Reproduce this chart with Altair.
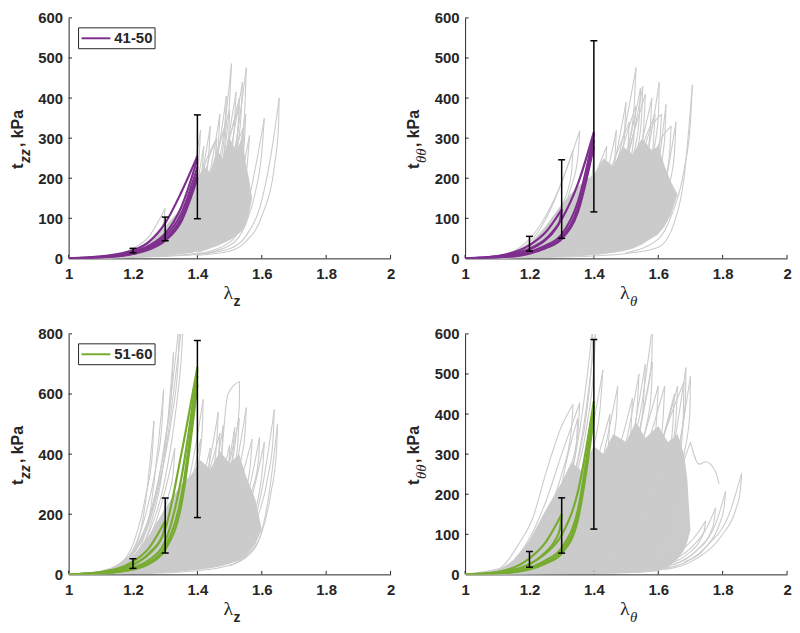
import altair as alt
import pandas as pd

INK = "#262626"
GRAY = "#cbcbcb"
PURPLE = "#7e2f8e"
GREEN = "#77ac30"
SANS = "Liberation Sans"
SERIF = "Liberation Serif"

W, H = 324, 242

X_TICKS = [1.0, 1.2, 1.4, 1.6, 1.8, 2.0]
Y_TICKS_600 = [0, 100, 200, 300, 400, 500, 600]
Y_TICKS_800 = [0, 200, 400, 600, 800]
ERR_LAM = [1.2, 1.3, 1.4]

# ---------------- Panel A: t_zz vs lambda_z, group 41-50 ----------------
A_ERR_LO = [14, 44, 99]
A_ERR_HI = [25, 103, 358]
A_MASS_LAM = [1.1, 1.2, 1.25, 1.3, 1.35, 1.38, 1.4, 1.42, 1.44, 1.46, 1.48, 1.5, 1.52, 1.54, 1.55, 1.56, 1.57]
A_MASS_LO = [0, 1, 3, 7, 11, 14, 18, 22, 25, 30, 38, 45, 55, 70, 85, 110, 150]
A_MASS_HI = [3, 18, 40, 80, 125, 165, 200, 230, 215, 270, 250, 300, 270, 300, 240, 200, 150]
A_GRAY = [
    [(1.0, 0), (1.1, 4), (1.2, 25), (1.25, 55), (1.3, 125), (1.295, 90), (1.28, 62), (1.25, 36), (1.2, 14), (1.1, 2)],
    [(1.0, 0), (1.2, 10), (1.3, 48), (1.35, 105), (1.38, 185), (1.41, 320), (1.405, 250), (1.39, 170), (1.36, 100), (1.3, 38), (1.2, 8)],
    [(1.0, 0), (1.2, 8), (1.3, 38), (1.38, 125), (1.42, 235), (1.44, 330), (1.435, 255), (1.42, 175), (1.38, 92), (1.3, 28)],
    [(1.0, 0), (1.2, 6), (1.3, 30), (1.4, 110), (1.44, 220), (1.47, 360), (1.465, 280), (1.45, 195), (1.4, 90), (1.3, 22)],
    [(1.0, 0), (1.2, 5), (1.3, 25), (1.4, 95), (1.46, 240), (1.49, 405), (1.485, 320), (1.47, 230), (1.43, 130), (1.35, 45)],
    [(1.0, 0), (1.2, 5), (1.3, 22), (1.4, 85), (1.45, 185), (1.48, 300), (1.506, 486), (1.5, 390), (1.49, 300), (1.46, 185), (1.4, 65), (1.3, 16)],
    [(1.1, 0), (1.3, 18), (1.4, 70), (1.47, 190), (1.52, 415), (1.515, 330), (1.5, 240), (1.46, 140), (1.4, 55)],
    [(1.1, 0), (1.3, 15), (1.4, 55), (1.48, 180), (1.54, 440), (1.535, 350), (1.52, 260), (1.48, 150), (1.4, 45)],
    [(1.1, 0), (1.3, 14), (1.4, 48), (1.48, 150), (1.52, 290), (1.552, 476), (1.548, 385), (1.54, 300), (1.5, 160), (1.45, 75), (1.4, 32)],
    [(1.0, 0), (1.2, 4), (1.4, 18), (1.48, 60), (1.52, 145), (1.562, 307), (1.555, 235), (1.54, 155), (1.5, 72), (1.45, 32), (1.4, 15)],
    [(1.0, 0), (1.2, 3), (1.4, 12), (1.5, 40), (1.55, 115), (1.58, 225), (1.608, 350), (1.6, 265), (1.58, 165), (1.55, 85), (1.5, 32), (1.4, 10)],
    [(1.0, 0), (1.2, 3), (1.4, 10), (1.5, 24), (1.55, 55), (1.6, 145), (1.63, 265), (1.654, 400), (1.652, 330), (1.64, 235), (1.6, 105), (1.55, 42), (1.5, 18), (1.4, 8)],
    [(1.0, 0), (1.2, 7), (1.3, 35), (1.38, 120), (1.43, 250), (1.46, 300), (1.455, 240), (1.44, 170), (1.4, 100), (1.33, 40)],
    [(1.0, 0), (1.2, 6), (1.3, 28), (1.4, 100), (1.46, 260), (1.5, 370), (1.497, 300), (1.48, 210), (1.44, 120), (1.36, 45)],
    [(1.0, 0), (1.2, 5), (1.35, 50), (1.44, 160), (1.5, 300), (1.53, 400), (1.527, 330), (1.51, 240), (1.47, 140), (1.4, 60)],
    [(1.0, 0), (1.25, 8), (1.4, 45), (1.48, 140), (1.53, 270), (1.55, 360), (1.546, 290), (1.53, 200), (1.49, 110), (1.42, 45)],
    [(1.0, 0), (1.2, 6), (1.3, 32), (1.37, 110), (1.4, 190), (1.42, 280), (1.415, 220), (1.4, 160), (1.37, 95), (1.3, 26)],
    [(1.0, 0), (1.25, 10), (1.35, 50), (1.42, 150), (1.47, 290), (1.49, 340), (1.485, 280), (1.47, 210), (1.43, 120), (1.37, 50)],
    [(1.0, 0), (1.25, 8), (1.38, 60), (1.46, 180), (1.51, 330), (1.53, 380), (1.525, 310), (1.51, 230), (1.47, 130), (1.4, 50)],
    [(1.0, 0), (1.3, 10), (1.42, 60), (1.49, 170), (1.53, 300), (1.545, 330), (1.54, 260), (1.52, 180), (1.48, 100), (1.42, 40)],
    [(1.0, 0), (1.2, 8), (1.33, 50), (1.4, 140), (1.44, 260), (1.46, 300), (1.455, 230), (1.44, 160), (1.4, 90), (1.33, 35)],
]
A_COL = [
    [(1.0, 0), (1.1, 5), (1.2, 20), (1.25, 42), (1.3, 88), (1.35, 165), (1.4, 255)],
    [(1.0, 0), (1.1, 4), (1.2, 16), (1.25, 32), (1.3, 62), (1.35, 128), (1.4, 248)],
    [(1.0, 0), (1.1, 3), (1.2, 14), (1.25, 28), (1.3, 55), (1.35, 112), (1.4, 228)],
    [(1.0, 0), (1.1, 3), (1.2, 12), (1.25, 25), (1.3, 48), (1.35, 100), (1.4, 212)],
    [(1.0, 0), (1.1, 2), (1.2, 11), (1.25, 22), (1.3, 44), (1.35, 92), (1.4, 200)],
]

# ---------------- Panel B: t_thetatheta vs lambda_theta, group 41-50 ----------------
B_ERR_LO = [18, 50, 116]
B_ERR_HI = [55, 246, 543]
B_MASS_LAM = [1.1, 1.2, 1.25, 1.3, 1.35, 1.4, 1.43, 1.46, 1.49, 1.52, 1.55, 1.58, 1.6, 1.62, 1.64, 1.66]
B_MASS_LO = [0, 1, 2, 4, 6, 9, 11, 14, 18, 24, 35, 50, 60, 80, 110, 160]
B_MASS_HI = [3, 35, 80, 135, 180, 210, 250, 230, 280, 260, 300, 270, 280, 230, 190, 160]
B_GRAY = [
    [(1.0, 0), (1.1, 5), (1.2, 48), (1.25, 105), (1.3, 190), (1.356, 318), (1.35, 250), (1.33, 180), (1.3, 112), (1.25, 55), (1.2, 20), (1.1, 2)],
    [(1.0, 0), (1.1, 4), (1.2, 40), (1.27, 130), (1.335, 270), (1.33, 210), (1.3, 130), (1.25, 60), (1.2, 18)],
    [(1.0, 0), (1.2, 8), (1.3, 30), (1.4, 110), (1.44, 210), (1.47, 320), (1.465, 250), (1.45, 175), (1.4, 80), (1.3, 20)],
    [(1.0, 0), (1.2, 6), (1.3, 22), (1.4, 90), (1.46, 225), (1.5, 390), (1.495, 305), (1.48, 215), (1.44, 115), (1.35, 35)],
    [(1.0, 0), (1.2, 8), (1.3, 28), (1.4, 90), (1.45, 175), (1.49, 300), (1.531, 476), (1.525, 380), (1.51, 290), (1.47, 180), (1.4, 75), (1.3, 22)],
    [(1.1, 0), (1.3, 18), (1.4, 65), (1.48, 190), (1.545, 425), (1.54, 340), (1.52, 250), (1.48, 150), (1.4, 50)],
    [(1.1, 0), (1.3, 15), (1.4, 58), (1.47, 160), (1.52, 300), (1.552, 429), (1.548, 350), (1.535, 270), (1.5, 160), (1.45, 80), (1.4, 40)],
    [(1.1, 0), (1.35, 20), (1.45, 78), (1.52, 200), (1.58, 400), (1.575, 320), (1.56, 230), (1.52, 125), (1.45, 55)],
    [(1.0, 0), (1.3, 10), (1.45, 48), (1.52, 135), (1.57, 275), (1.603, 439), (1.6, 350), (1.58, 250), (1.54, 140), (1.48, 60), (1.4, 25)],
    [(1.0, 0), (1.3, 8), (1.45, 30), (1.55, 90), (1.6, 230), (1.624, 384), (1.62, 300), (1.6, 200), (1.56, 110), (1.5, 50), (1.4, 18)],
    [(1.0, 0), (1.2, 3), (1.4, 10), (1.5, 25), (1.58, 80), (1.62, 180), (1.655, 340), (1.65, 260), (1.63, 170), (1.6, 90), (1.55, 45), (1.5, 22)],
    [(1.0, 0), (1.2, 2), (1.4, 6), (1.5, 12), (1.6, 28), (1.65, 90), (1.68, 200), (1.706, 433), (1.7, 340), (1.68, 220), (1.64, 105), (1.6, 48), (1.5, 14)],
    [(1.0, 0), (1.2, 7), (1.32, 45), (1.42, 160), (1.48, 280), (1.51, 340), (1.505, 270), (1.49, 190), (1.44, 100), (1.36, 40)],
    [(1.0, 0), (1.25, 10), (1.38, 60), (1.47, 180), (1.53, 330), (1.56, 410), (1.555, 330), (1.54, 240), (1.5, 140), (1.42, 55)],
    [(1.0, 0), (1.3, 12), (1.42, 55), (1.5, 160), (1.56, 300), (1.59, 360), (1.585, 290), (1.57, 210), (1.53, 120), (1.45, 45)],
    [(1.0, 0), (1.2, 10), (1.3, 50), (1.38, 150), (1.42, 240), (1.44, 280), (1.435, 220), (1.42, 160), (1.38, 90), (1.3, 30)],
    [(1.0, 0), (1.25, 8), (1.38, 60), (1.46, 200), (1.51, 330), (1.53, 380), (1.525, 310), (1.51, 230), (1.46, 120), (1.38, 45)],
    [(1.0, 0), (1.3, 8), (1.45, 60), (1.53, 200), (1.58, 330), (1.61, 360), (1.605, 290), (1.59, 210), (1.54, 110), (1.46, 40)],
    [(1.0, 0), (1.3, 6), (1.48, 60), (1.56, 190), (1.61, 300), (1.64, 330), (1.635, 260), (1.62, 190), (1.57, 100), (1.5, 40)],
    [(1.0, 0), (1.2, 12), (1.3, 70), (1.36, 170), (1.39, 250), (1.4, 270), (1.395, 210), (1.38, 160), (1.34, 90), (1.27, 35)],
]
B_COL = [
    [(1.0, 0), (1.1, 6), (1.2, 33), (1.25, 65), (1.3, 122), (1.295, 95), (1.28, 72), (1.25, 46), (1.2, 22), (1.1, 4)],
    [(1.0, 0), (1.1, 5), (1.2, 24), (1.25, 48), (1.3, 98), (1.35, 185), (1.4, 315)],
    [(1.0, 0), (1.1, 3), (1.2, 16), (1.25, 32), (1.3, 60), (1.35, 140), (1.4, 310)],
    [(1.0, 0), (1.1, 3), (1.2, 14), (1.25, 28), (1.3, 53), (1.35, 125), (1.4, 295)],
    [(1.0, 0), (1.1, 2), (1.2, 12), (1.25, 25), (1.3, 48), (1.35, 115), (1.4, 280)],
]

# ---------------- Panel C: t_zz vs lambda_z, group 51-60 ----------------
C_ERR_LO = [20, 71, 189]
C_ERR_HI = [52, 254, 778]
C_MASS_LAM = [1.1, 1.15, 1.2, 1.25, 1.3, 1.35, 1.38, 1.41, 1.44, 1.47, 1.5, 1.53, 1.55, 1.58, 1.6]
C_MASS_LO = [0, 0, 1, 3, 6, 10, 13, 16, 20, 26, 35, 45, 60, 100, 150]
C_MASS_HI = [5, 22, 60, 130, 220, 300, 330, 380, 350, 410, 370, 400, 330, 250, 150]
C_GRAY = [
    [(1.0, 0), (1.1, 10), (1.2, 70), (1.25, 170), (1.3, 400), (1.33, 640), (1.36, 900), (1.35, 720), (1.33, 520), (1.3, 320), (1.25, 140), (1.2, 50), (1.1, 5)],
    [(1.0, 0), (1.1, 10), (1.2, 75), (1.25, 190), (1.3, 440), (1.345, 850), (1.34, 700), (1.32, 520), (1.28, 300), (1.22, 110), (1.15, 25)],
    [(1.0, 0), (1.1, 8), (1.2, 60), (1.25, 150), (1.3, 420), (1.326, 740), (1.32, 620), (1.3, 450), (1.27, 260), (1.22, 100), (1.15, 25)],
    [(1.0, 0), (1.1, 8), (1.2, 55), (1.25, 190), (1.295, 615), (1.29, 500), (1.27, 350), (1.23, 165), (1.18, 50), (1.1, 6)],
    [(1.0, 0), (1.1, 8), (1.2, 75), (1.24, 250), (1.265, 510), (1.26, 400), (1.24, 265), (1.2, 100), (1.15, 30)],
    [(1.0, 0), (1.2, 25), (1.3, 110), (1.36, 250), (1.39, 400), (1.418, 582), (1.415, 480), (1.405, 380), (1.38, 260), (1.33, 140), (1.25, 50)],
    [(1.0, 0), (1.25, 20), (1.35, 100), (1.42, 280), (1.465, 540), (1.46, 440), (1.45, 350), (1.42, 230), (1.36, 110), (1.3, 40)],
    [(1.0, 0), (1.3, 30), (1.4, 130), (1.45, 300), (1.48, 495), (1.475, 400), (1.46, 310), (1.42, 180), (1.35, 70)],
    [(1.0, 0), (1.3, 20), (1.4, 80), (1.46, 220), (1.495, 600), (1.531, 642), (1.53, 560), (1.52, 460), (1.5, 320), (1.45, 160), (1.4, 70)],
    [(1.0, 0), (1.3, 15), (1.42, 100), (1.48, 270), (1.516, 489), (1.51, 400), (1.49, 300), (1.45, 170), (1.38, 70)],
    [(1.0, 0), (1.35, 25), (1.45, 100), (1.5, 250), (1.552, 555), (1.548, 470), (1.535, 380), (1.5, 220), (1.45, 100)],
    [(1.0, 0), (1.35, 15), (1.45, 55), (1.52, 150), (1.56, 280), (1.593, 456), (1.59, 380), (1.57, 280), (1.53, 160), (1.47, 70)],
    [(1.0, 0), (1.3, 10), (1.45, 40), (1.53, 130), (1.57, 260), (1.608, 440), (1.603, 360), (1.59, 260), (1.55, 140), (1.5, 60)],
    [(1.0, 0), (1.3, 8), (1.45, 30), (1.55, 100), (1.6, 280), (1.639, 549), (1.635, 450), (1.62, 330), (1.58, 170), (1.52, 70)],
    [(1.0, 0), (1.2, 2), (1.4, 12), (1.5, 30), (1.58, 90), (1.62, 250), (1.649, 500), (1.645, 400), (1.63, 280), (1.6, 140), (1.55, 60), (1.5, 28)],
    [(1.0, 0), (1.2, 15), (1.32, 90), (1.4, 250), (1.44, 420), (1.435, 340), (1.42, 260), (1.38, 160), (1.3, 60)],
    [(1.0, 0), (1.25, 12), (1.38, 90), (1.46, 250), (1.5, 430), (1.497, 350), (1.48, 260), (1.44, 150), (1.36, 55)],
    [(1.0, 0), (1.2, 20), (1.3, 110), (1.38, 300), (1.41, 450), (1.405, 370), (1.39, 290), (1.35, 170), (1.27, 60)],
    [(1.0, 0), (1.25, 15), (1.35, 110), (1.43, 320), (1.47, 470), (1.465, 390), (1.45, 300), (1.41, 190), (1.33, 70)],
    [(1.0, 0), (1.3, 18), (1.42, 120), (1.49, 330), (1.53, 520), (1.525, 430), (1.51, 330), (1.47, 200), (1.4, 80)],
    [(1.0, 0), (1.3, 12), (1.45, 90), (1.52, 260), (1.57, 450), (1.565, 370), (1.55, 280), (1.51, 170), (1.44, 70)],
    [(1.0, 0), (1.15, 15), (1.25, 120), (1.3, 280), (1.33, 420), (1.325, 340), (1.31, 260), (1.27, 150), (1.2, 45)],
]
C_COL = [
    [(1.0, 0), (1.1, 8), (1.2, 42), (1.25, 88), (1.3, 178), (1.295, 140), (1.28, 105), (1.25, 68), (1.2, 32), (1.1, 5)],
    [(1.0, 0), (1.1, 6), (1.2, 32), (1.25, 70), (1.3, 150), (1.35, 400), (1.4, 690)],
    [(1.0, 0), (1.1, 4), (1.2, 22), (1.25, 48), (1.3, 110), (1.35, 320), (1.4, 680)],
    [(1.0, 0), (1.1, 3), (1.2, 18), (1.25, 40), (1.3, 92), (1.35, 260), (1.4, 660)],
    [(1.0, 0), (1.1, 3), (1.2, 16), (1.25, 35), (1.3, 82), (1.35, 230), (1.4, 630)],
]

# ---------------- Panel D: t_thetatheta vs lambda_theta, group 51-60 ----------------
D_ERR_LO = [18, 53, 113]
D_ERR_HI = [57, 191, 586]
D_MASS_LAM = [1.1, 1.15, 1.2, 1.25, 1.3, 1.33, 1.36, 1.4, 1.43, 1.46, 1.5, 1.53, 1.56, 1.6, 1.63, 1.66, 1.68, 1.69, 1.7]
D_MASS_LO = [0, 0, 0, 1, 1, 2, 2, 2, 3, 3, 4, 4, 5, 8, 18, 38, 60, 80, 110]
D_MASS_HI = [8, 35, 85, 160, 230, 280, 260, 320, 300, 350, 330, 380, 340, 370, 330, 350, 300, 240, 110]
D_GRAY = [
    [(1.0, 0), (1.1, 12), (1.17, 80), (1.21, 140), (1.25, 250), (1.3, 370), (1.335, 424), (1.33, 360), (1.3, 250), (1.25, 140), (1.2, 60), (1.1, 8)],
    [(1.0, 0), (1.1, 10), (1.2, 90), (1.25, 180), (1.3, 300), (1.356, 428), (1.35, 350), (1.32, 250), (1.27, 150), (1.2, 50)],
    [(1.0, 0), (1.2, 40), (1.3, 170), (1.35, 330), (1.38, 500), (1.397, 620), (1.395, 560), (1.38, 420), (1.35, 280), (1.3, 150), (1.2, 30)],
    [(1.0, 0), (1.2, 30), (1.3, 140), (1.37, 380), (1.405, 600), (1.4, 520), (1.38, 380), (1.34, 230), (1.28, 100)],
    [(1.0, 0), (1.2, 20), (1.3, 100), (1.38, 300), (1.428, 510), (1.42, 420), (1.4, 320), (1.35, 180), (1.28, 70)],
    [(1.0, 0), (1.2, 10), (1.3, 60), (1.4, 200), (1.474, 469), (1.47, 390), (1.45, 300), (1.4, 170), (1.3, 45)],
    [(1.0, 0), (1.3, 30), (1.4, 130), (1.47, 290), (1.52, 440), (1.515, 360), (1.5, 280), (1.45, 170), (1.35, 60)],
    [(1.0, 0), (1.3, 20), (1.4, 90), (1.5, 260), (1.55, 430), (1.582, 620), (1.58, 540), (1.56, 430), (1.52, 300), (1.45, 150)],
    [(1.0, 0), (1.3, 15), (1.45, 120), (1.52, 280), (1.582, 530), (1.578, 450), (1.56, 360), (1.52, 240), (1.45, 100)],
    [(1.0, 0), (1.3, 15), (1.4, 80), (1.5, 260), (1.56, 525), (1.555, 440), (1.54, 340), (1.5, 210), (1.42, 80)],
    [(1.0, 0), (1.3, 5), (1.5, 40), (1.6, 170), (1.65, 330), (1.686, 516), (1.684, 430), (1.67, 340), (1.63, 220), (1.57, 100), (1.5, 35)],
    [(1.0, 0), (1.3, 4), (1.5, 30), (1.6, 130), (1.66, 300), (1.7, 494), (1.698, 400), (1.68, 300), (1.64, 180), (1.58, 70), (1.5, 25)],
    [(1.0, 0), (1.4, 5), (1.55, 30), (1.62, 120), (1.67, 260), (1.7, 330), (1.727, 275), (1.747, 281), (1.778, 256), (1.789, 225)],
    [(1.0, 0), (1.5, 4), (1.65, 20), (1.75, 70), (1.82, 150), (1.859, 252), (1.855, 210), (1.84, 160), (1.8, 100), (1.72, 40), (1.62, 12)],
    [(1.0, 0), (1.5, 5), (1.65, 25), (1.72, 60), (1.78, 130), (1.809, 207), (1.805, 170), (1.79, 125), (1.75, 70), (1.68, 30)],
    [(1.0, 0), (1.5, 6), (1.63, 30), (1.7, 65), (1.75, 115), (1.778, 166), (1.774, 135), (1.76, 100), (1.72, 60), (1.65, 25)],
    [(1.0, 0), (1.5, 8), (1.62, 35), (1.68, 65), (1.72, 100), (1.747, 133), (1.743, 110), (1.73, 85), (1.69, 50), (1.62, 22)],
    [(1.0, 0), (1.3, 10), (1.45, 90), (1.55, 280), (1.62, 470), (1.615, 390), (1.6, 300), (1.55, 180), (1.47, 70)],
    [(1.0, 0), (1.3, 8), (1.5, 110), (1.6, 300), (1.65, 450), (1.645, 370), (1.63, 280), (1.58, 160), (1.5, 60)],
    [(1.0, 0), (1.2, 15), (1.3, 90), (1.4, 260), (1.45, 400), (1.445, 320), (1.43, 240), (1.38, 140), (1.3, 50)],
    [(1.0, 0), (1.3, 12), (1.45, 120), (1.55, 330), (1.6, 470), (1.595, 390), (1.58, 300), (1.53, 180), (1.45, 70)],
    [(1.0, 0), (1.3, 10), (1.5, 120), (1.6, 300), (1.66, 470), (1.655, 390), (1.64, 300), (1.6, 190), (1.52, 70)],
    [(1.0, 0), (1.2, 30), (1.28, 150), (1.32, 300), (1.35, 390), (1.345, 320), (1.33, 250), (1.29, 150), (1.22, 50)],
    [(1.0, 0), (1.3, 10), (1.5, 100), (1.58, 260), (1.65, 420), (1.68, 480), (1.678, 400), (1.67, 310), (1.64, 200), (1.58, 90)],
    [(1.0, 0), (1.3, 20), (1.42, 160), (1.5, 330), (1.54, 500), (1.535, 420), (1.52, 330), (1.48, 210), (1.4, 90)],
]
D_COL = [
    [(1.0, 0), (1.1, 6), (1.2, 40), (1.25, 80), (1.3, 150), (1.295, 115), (1.28, 85), (1.25, 55), (1.2, 25), (1.1, 4)],
    [(1.0, 0), (1.1, 4), (1.2, 26), (1.25, 52), (1.3, 98), (1.35, 205), (1.4, 432)],
    [(1.0, 0), (1.1, 3), (1.2, 17), (1.25, 35), (1.3, 66), (1.35, 160), (1.4, 420)],
    [(1.0, 0), (1.1, 2), (1.2, 14), (1.25, 30), (1.3, 58), (1.35, 145), (1.4, 405)],
    [(1.0, 0), (1.1, 2), (1.2, 12), (1.25, 27), (1.3, 52), (1.35, 135), (1.4, 392)],
]

ONE = pd.DataFrame({"a": [0]})


def curves_df(curves):
    rows = []
    for i, c in enumerate(curves):
        k = max(range(len(c)), key=lambda j: c[j][1])
        for lam, t in c[: k + 1]:
            rows.append({"lam": lam, "t": t, "key": f"{i}u"})
        for lam, t in c[k:]:
            rows.append({"lam": lam, "t": t, "key": f"{i}d"})
    return pd.DataFrame(rows)


def txt(text, x, y, size, weight="bold", style="normal", font=SANS, angle=0, align="left", baseline="alphabetic"):
    return alt.Chart(ONE).mark_text(
        text=text, font=font, fontSize=size, fontWeight=weight, fontStyle=style,
        angle=angle, align=align, baseline=baseline, color=INK,
    ).encode(x=alt.value(x), y=alt.value(y))


def panel(gray, mass, col, color, err_lo, err_hi, ymax, yticks, is_theta, legend):
    xs = alt.Scale(domain=[1, 2], nice=False, zero=False)
    ys = alt.Scale(domain=[0, ymax], nice=False, zero=False)
    common = dict(grid=False, ticks=False, domainColor=INK, domainWidth=1,
                  labelFont=SANS, labelFontSize=15, labelFontWeight="bold", labelColor=INK,
                  labelFlush=False, labelOverlap=False, title=None)
    xax = alt.Axis(values=X_TICKS, format=".1~f", labelPadding=8, **common)
    yax = alt.Axis(values=yticks, format="d", labelPadding=6, **common)

    def X(f):
        return alt.X(f, scale=xs, axis=xax)

    def Y(f):
        return alt.Y(f, scale=ys, axis=yax)

    mdf = pd.DataFrame({"lam": mass[0], "lo": mass[1], "hi": mass[2]})
    area = alt.Chart(mdf).mark_area(color=GRAY, interpolate="linear", clip=True).encode(
        x=X("lam:Q"), y=Y("lo:Q"), y2=alt.Y2("hi:Q"))
    xt = alt.Chart(pd.DataFrame({"lam": X_TICKS})).mark_rule(color=INK, strokeWidth=1).encode(
        x=X("lam:Q"), y=alt.value(H), y2=alt.value(H - 3.5))
    yt = alt.Chart(pd.DataFrame({"t": yticks})).mark_rule(color=INK, strokeWidth=1).encode(
        y=Y("t:Q"), x=alt.value(0), x2=alt.value(3.5))
    glines = alt.Chart(curves_df(gray)).mark_line(
        color=GRAY, strokeWidth=1.1, interpolate="monotone", clip=True).encode(
        x=X("lam:Q"), y=Y("t:Q"), detail="key:N", order="lam:Q")
    clines = alt.Chart(curves_df(col)).mark_line(
        color=color, strokeWidth=2.2, interpolate="monotone", clip=True).encode(
        x=X("lam:Q"), y=Y("t:Q"), detail="key:N", order="lam:Q")
    edf = pd.DataFrame({"lam": ERR_LAM, "lo": err_lo, "hi": err_hi})
    ebar = alt.Chart(edf).mark_rule(color="black", strokeWidth=1.5).encode(
        x=X("lam:Q"), y=Y("lo:Q"), y2="hi:Q")
    cap_hi = alt.Chart(edf).mark_rule(color="black", strokeWidth=1.5, xOffset=-3.5, x2Offset=3.5).encode(
        x=X("lam:Q"), x2="lam:Q", y=Y("hi:Q"))
    cap_lo = alt.Chart(edf).mark_rule(color="black", strokeWidth=1.5, xOffset=-3.5, x2Offset=3.5).encode(
        x=X("lam:Q"), x2="lam:Q", y=Y("lo:Q"))

    c = H / 2
    layers = [area, xt, yt, glines, clines, ebar, cap_hi, cap_lo]
    layers.append(txt("t", -46, c + 31, 17, angle=270))
    if is_theta:
        layers.append(txt("θθ", -39, c + 25, 15, weight="normal", style="italic", font=SERIF, angle=270))
    else:
        layers.append(txt("zz", -39, c + 25, 14, style="italic", angle=270))
    layers.append(txt(", kPa", -46, c + 9, 16, angle=270))
    layers.append(txt("λ", 156, H + 41, 20, weight="normal", font=SERIF))
    if is_theta:
        layers.append(txt("θ", 166, H + 48, 15, weight="normal", style="italic", font=SERIF))
    else:
        layers.append(txt("z", 166, H + 48, 14))
    if legend:
        layers.append(alt.Chart(ONE).mark_rect(fill="white", stroke=INK, strokeWidth=1).encode(
            x=alt.value(10), x2=alt.value(87), y=alt.value(10), y2=alt.value(31)))
        layers.append(alt.Chart(ONE).mark_rule(color=color, strokeWidth=2).encode(
            x=alt.value(13), x2=alt.value(42), y=alt.value(20.5)))
        layers.append(txt(legend, 46, 20.5, 15, baseline="middle"))
    return alt.layer(*layers).properties(width=W, height=H)


pa = panel(A_GRAY, (A_MASS_LAM, A_MASS_LO, A_MASS_HI), A_COL, PURPLE, A_ERR_LO, A_ERR_HI, 600, Y_TICKS_600, False, "41-50")
pb = panel(B_GRAY, (B_MASS_LAM, B_MASS_LO, B_MASS_HI), B_COL, PURPLE, B_ERR_LO, B_ERR_HI, 600, Y_TICKS_600, True, None)
pc = panel(C_GRAY, (C_MASS_LAM, C_MASS_LO, C_MASS_HI), C_COL, GREEN, C_ERR_LO, C_ERR_HI, 800, Y_TICKS_800, False, "51-60")
pd_ = panel(D_GRAY, (D_MASS_LAM, D_MASS_LO, D_MASS_HI), D_COL, GREEN, D_ERR_LO, D_ERR_HI, 600, Y_TICKS_600, True, None)

chart = alt.concat(pa, pb, pc, pd_, columns=2, spacing={"row": 76, "column": 75}, bounds="flush").properties(
    padding={"left": 0, "top": 0, "right": 0, "bottom": 0}
).configure_view(stroke="transparent")

chart.save("out.html", embed_options={"renderer": "svg", "actions": False})
